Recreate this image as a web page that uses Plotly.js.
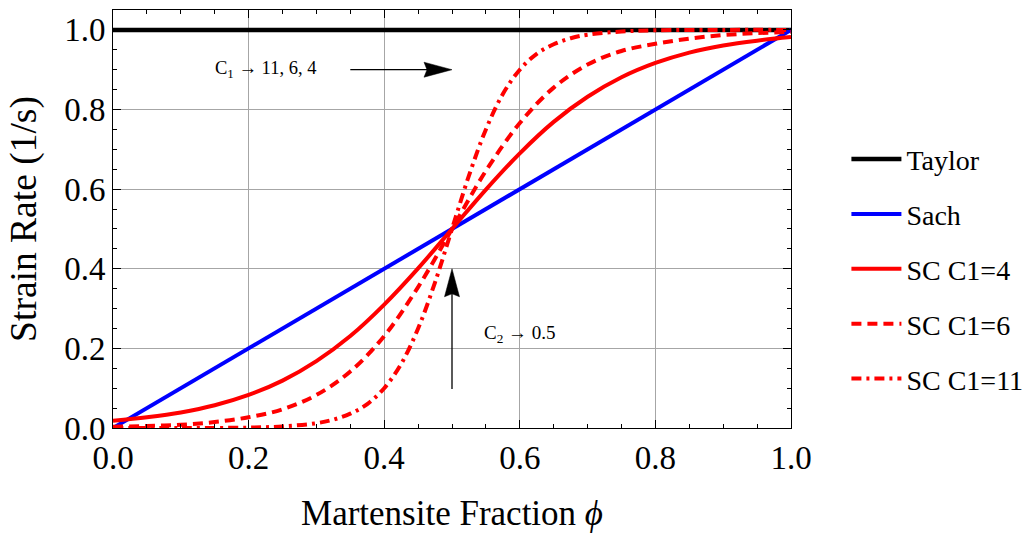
<!DOCTYPE html>
<html>
<head>
<meta charset="utf-8">
<script src="https://cdn.plot.ly/plotly-3.0.1.min.js"></script>
<style>html,body{margin:0;padding:0;background:#fff;}#chart{width:1036px;height:533px;}</style>
</head>
<body>
<div id="chart"></div>
<script>
// ---- data ----
const phiLine = [0, 1];
const taylor = [1, 1];
const sach = [0, 1];

const phiA = [0, 0.05, 0.1, 0.15, 0.2, 0.25, 0.3, 0.35, 0.4, 0.45, 0.5, 0.55, 0.6, 0.65, 0.7, 0.75, 0.8, 0.85, 0.9, 0.95, 1.0];
const scC1_4 = [0.018, 0.027, 0.039, 0.057, 0.083, 0.119, 0.168, 0.231, 0.310, 0.401, 0.500, 0.599, 0.690, 0.769, 0.832, 0.881, 0.917, 0.943, 0.961, 0.973, 0.982];
const scC1_6 = [0.003, 0.005, 0.008, 0.015, 0.027, 0.047, 0.083, 0.142, 0.231, 0.354, 0.500, 0.646, 0.766, 0.855, 0.913, 0.947, 0.965, 0.978, 0.987, 0.992, 0.995];

const phiB = [0, 0.1, 0.2, 0.25, 0.3, 0.325, 0.35, 0.375, 0.4, 0.425, 0.45, 0.475, 0.5, 0.525, 0.55, 0.575, 0.6, 0.625, 0.65, 0.675, 0.7, 0.75, 0.8, 0.9, 1.0];
const scC1_11 = [0.000, 0.000, 0.001, 0.004, 0.012, 0.021, 0.036, 0.060, 0.100, 0.161, 0.250, 0.366, 0.500, 0.634, 0.750, 0.839, 0.900, 0.940, 0.964, 0.979, 0.988, 0.996, 0.999, 1.000, 1.000];

const seriesNames = ['Taylor', 'Sach', 'SC C1=4', 'SC C1=6', 'SC C1=11'];
const tickVals = [0, 0.2, 0.4, 0.6, 0.8, 1.0];
const tickText = ['0.0', '0.2', '0.4', '0.6', '0.8', '1.0'];
const xTitle = 'Martensite Fraction <i>ϕ</i>';
const yTitle = 'Strain Rate (1/s)';
const note1 = 'C<sub>1</sub> → 11, 6, 4';
const note2 = 'C<sub>2</sub> → 0.5';

const serif = 'Liberation Serif';

const traces = [
  {x: phiLine, y: taylor, name: seriesNames[0], legendgroup: 'a', mode: 'lines', line: {color: '#000000', width: 4.5}},
  {x: phiLine, y: sach, name: seriesNames[1], legendgroup: 'b', mode: 'lines', line: {color: '#0000ff', width: 4}},
  {x: phiA, y: scC1_4, name: seriesNames[2], legendgroup: 'c', mode: 'lines', line: {color: '#ff0000', width: 4, shape: 'spline'}},
  {x: phiA, y: scC1_6, name: seriesNames[3], legendgroup: 'd', mode: 'lines', line: {color: '#ff0000', width: 4, shape: 'spline', dash: '10px,6px'}},
  {x: phiB, y: scC1_11, name: seriesNames[4], legendgroup: 'e', mode: 'lines', line: {color: '#ff0000', width: 4, shape: 'spline', dash: '10px,5px,3px,5px'}}
];

function axisBase(title, size) {
  return {
    tickmode: 'array', tickvals: tickVals, ticktext: tickText,
    ticks: 'inside', ticklen: 8, tickwidth: 1, tickcolor: '#000',
    minor: {dtick: 0.05, ticks: 'inside', ticklen: 4, tickwidth: 1, tickcolor: '#000', showgrid: false},
    showgrid: true, gridcolor: '#a6a6a6', gridwidth: 1,
    showline: true, linecolor: '#000', linewidth: 1, mirror: 'ticks',
    zeroline: false, fixedrange: true, automargin: false,
    tickfont: {family: serif, size: 33, color: '#000'},
    title: {text: title, font: {family: serif, size: size, color: '#000'}}
  };
}

const xaxis = axisBase(xTitle, 35);
xaxis.range = [0, 1];
xaxis.title.standoff = 25;
const yaxis = axisBase(yTitle, 37.5);
yaxis.range = [0, 1.05];
yaxis.title.standoff = 16;

const layout = {
  width: 1036, height: 533,
  margin: {l: 113, r: 245, t: 10, b: 105, autoexpand: false},
  paper_bgcolor: '#fff', plot_bgcolor: '#fff',
  xaxis: xaxis, yaxis: yaxis,
  showlegend: true,
  legend: {xref: 'container', yref: 'container', x: 0.817, y: 0.748, xanchor: 'left', yanchor: 'top',
           font: {family: serif, size: 28, color: '#000'},
           tracegroupgap: 15.5, itemwidth: 50, bgcolor: 'rgba(0,0,0,0)'},
  annotations: [
    {x: 0.225, y: 0.9, xref: 'x', yref: 'y', text: note1, showarrow: false, font: {family: serif, size: 18.5, color: '#000'}},
    {x: 0.6, y: 0.236, xref: 'x', yref: 'y', text: note2, showarrow: false, font: {family: serif, size: 19, color: '#000'}}
  ],
  shapes: [
    {type: 'line', xref: 'x', yref: 'y', x0: 0.35, y0: 0.9, x1: 0.48, y1: 0.9, line: {color: '#000', width: 1.3}},
    {type: 'path', xref: 'x', yref: 'y', xsizemode: 'pixel', ysizemode: 'pixel', xanchor: 0.5, yanchor: 0.9,
     path: 'M0,0 L-28,7.5 L-25,0 L-28,-7.5 Z', fillcolor: '#000', line: {color: '#000', width: 0.5}},
    {type: 'line', xref: 'x', yref: 'y', x0: 0.5, y0: 0.098, x1: 0.5, y1: 0.37, line: {color: '#000', width: 1.3}},
    {type: 'path', xref: 'x', yref: 'y', xsizemode: 'pixel', ysizemode: 'pixel', xanchor: 0.5, yanchor: 0.4,
     path: 'M0,0 L-7.5,-28 L0,-25 L7.5,-28 Z', fillcolor: '#000', line: {color: '#000', width: 0.5}}
  ]
};

Plotly.newPlot('chart', traces, layout, {displayModeBar: false, staticPlot: true});
</script>
</body>
</html>
